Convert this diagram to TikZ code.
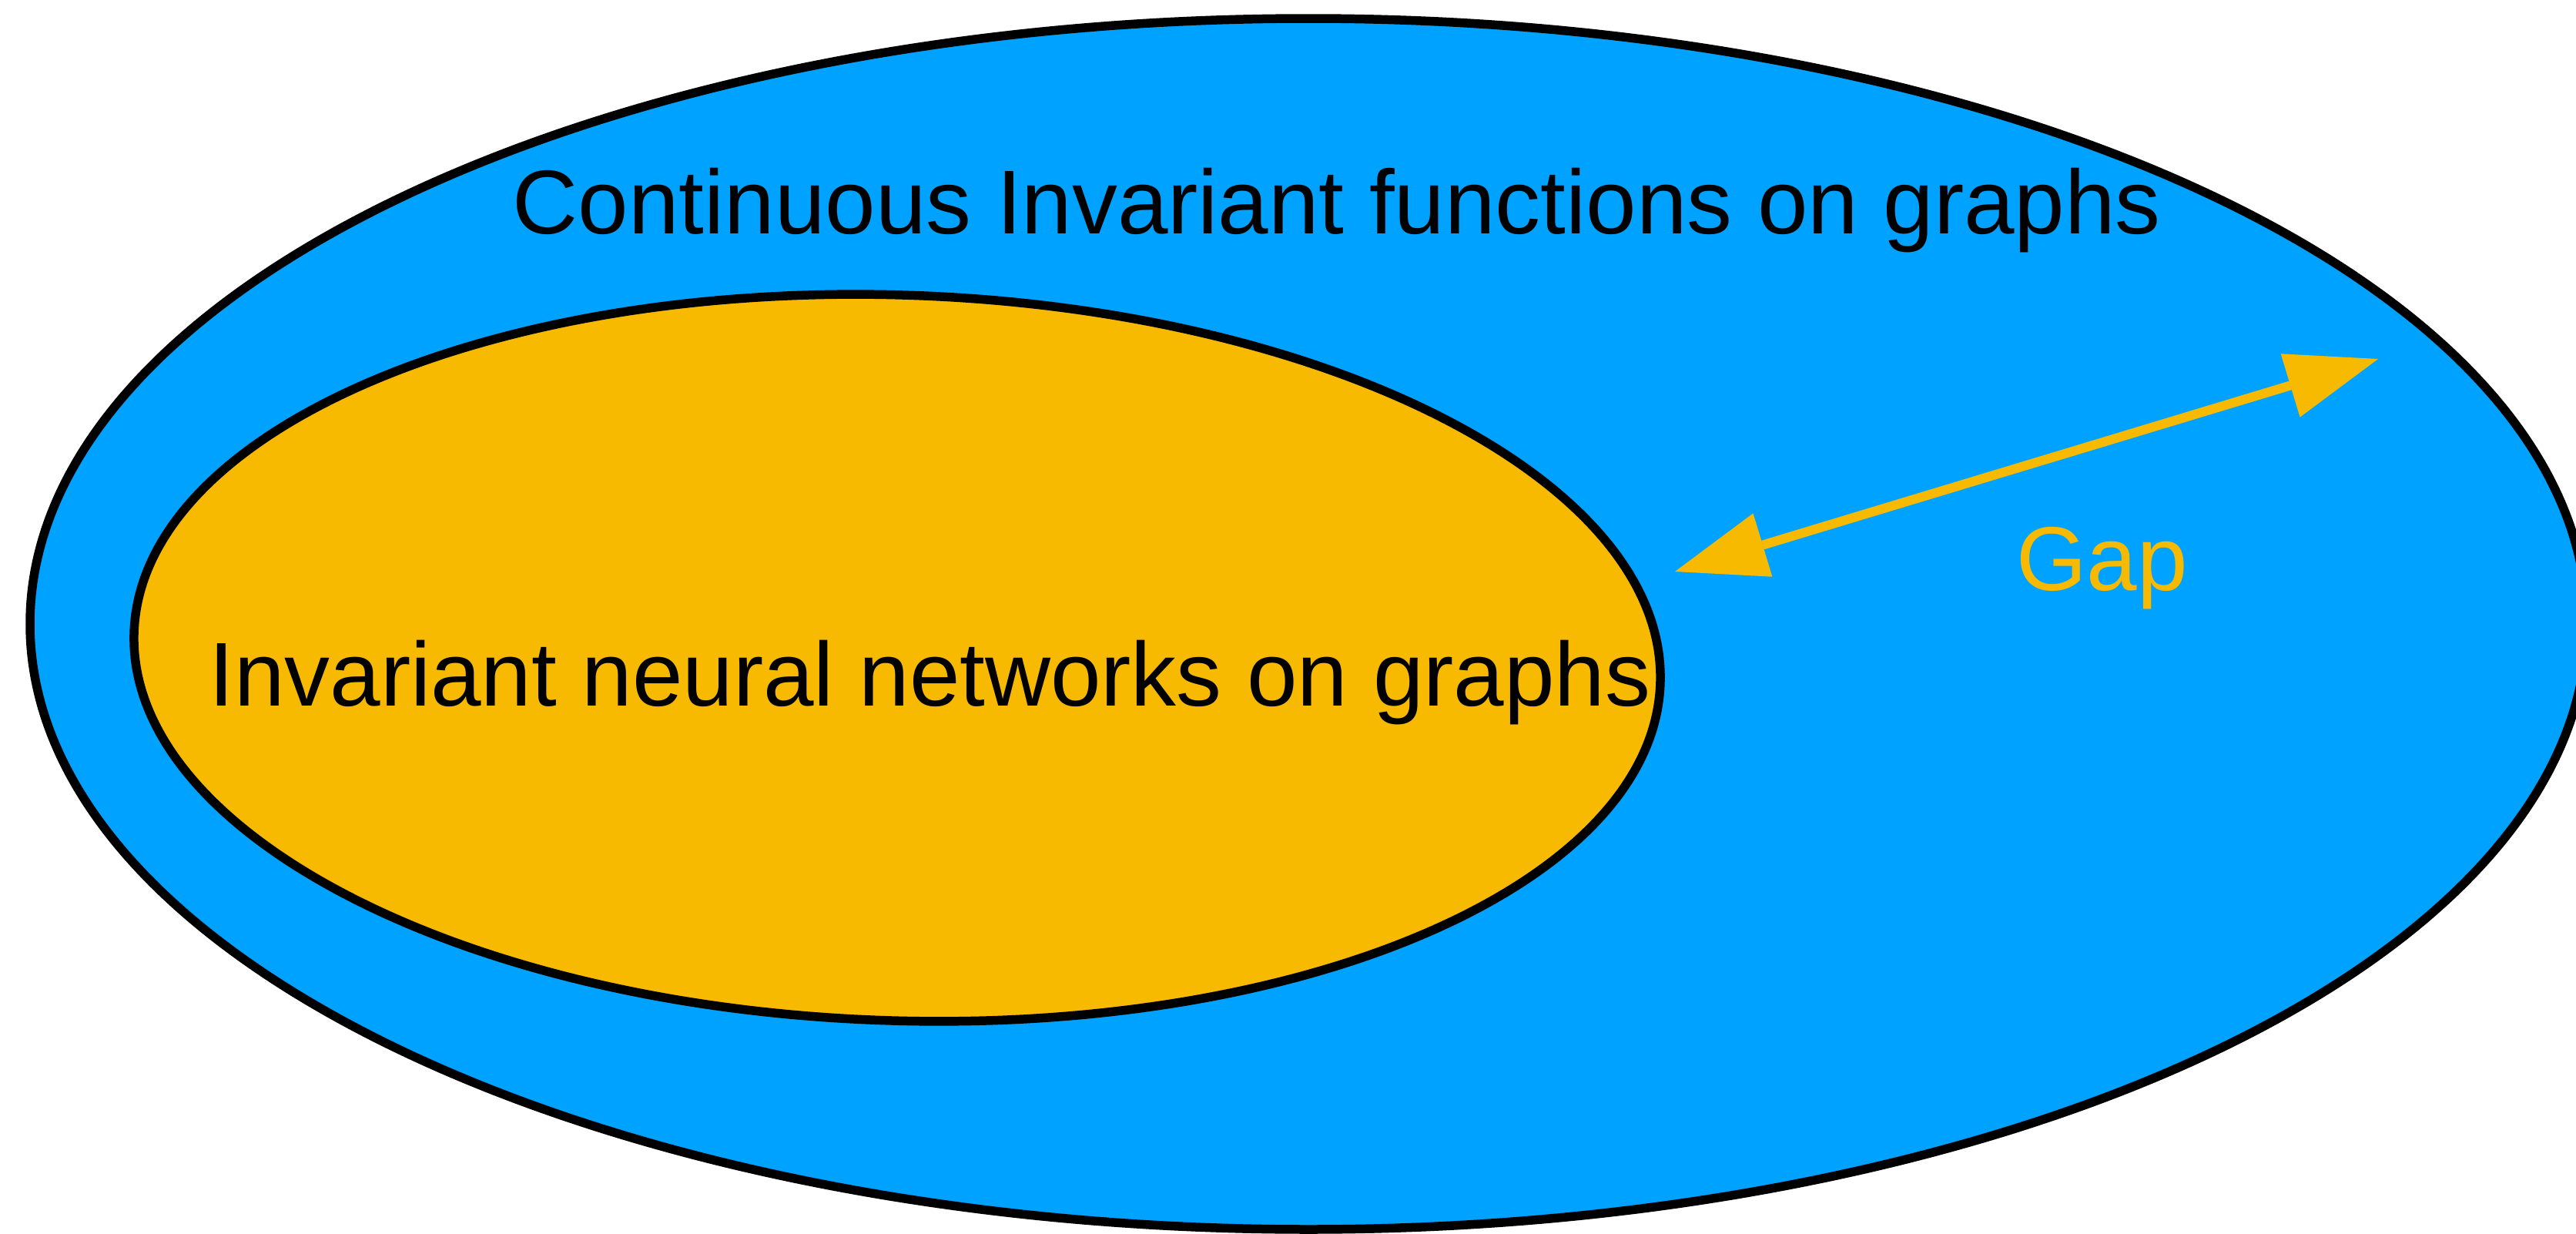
\documentclass[tikz,border=0pt]{standalone}
\usepackage{fontspec}
\setmainfont{Liberation Sans}
\usetikzlibrary{shapes.geometric,arrows.meta}
\definecolor{setblue}{RGB}{0,162,255}
\definecolor{setorange}{RGB}{248,186,0}
\tikzset{
  setshape/.style={ellipse, draw=black, line width=0.115cm, inner sep=0pt, outer sep=0pt},
  setlabel/.style={inner sep=0pt, outer sep=0pt, anchor=base, font=\fontsize{33.5}{40}\selectfont},
  gaparrow/.style={draw=setorange, line width=0.12cm,
    {Triangle[length=1.19cm, width=0.86cm, line width=0pt]}-{Triangle[length=1.19cm, width=0.86cm, line width=0pt]}}
}
\begin{document}
\begin{tikzpicture}
\useasboundingbox (0,0) rectangle (33.45,-16.02);
\clip (0,0) rectangle (33.45,-16.02);
\fill[white] (0,0) rectangle (33.45,-16.02);

% all continuous invariant functions
\node[setshape, fill=setblue, minimum width=33.20cm, minimum height=15.72cm] (outer) at (16.99,-8.10) {};
% the subset reached by invariant networks
\node[setshape, fill=setorange, minimum width=19.83cm, minimum height=9.42cm, rotate=-1.9] (inner) at (11.65,-8.54) {};

\node[setlabel] (outerlabel) at (17.36,-3.03) {Continuous Invariant functions on graphs};
\node[setlabel] (innerlabel) at (12.075,-9.16) {Invariant neural networks on graphs};

% the gap between the two sets
\coordinate (gapL) at (21.75,-7.42);
\coordinate (gapR) at (30.88,-4.66);
\draw[gaparrow] (gapL) -- (gapR);
\node[setlabel, anchor=base west, text=setorange] (gaplabel) at (26.18,-7.66) {Gap};
\end{tikzpicture}
\end{document}
